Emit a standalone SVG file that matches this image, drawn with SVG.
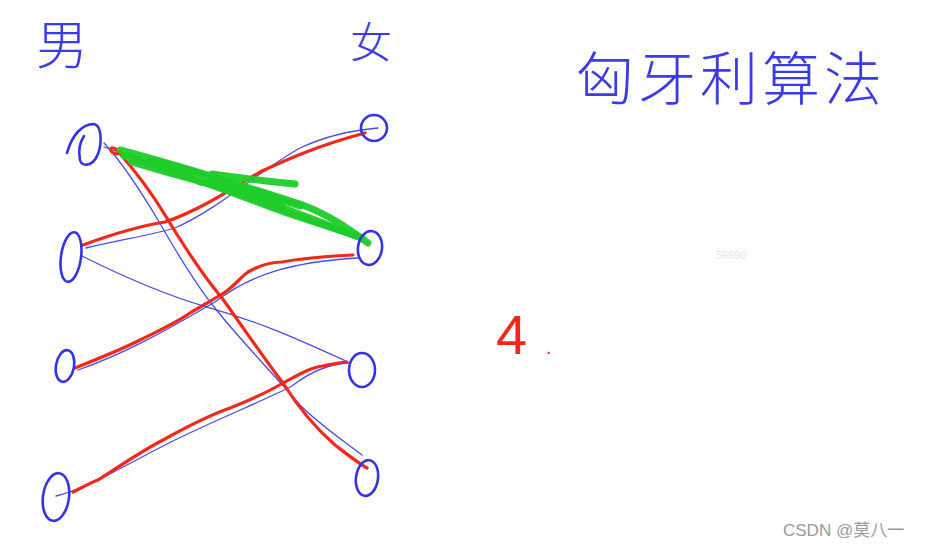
<svg xmlns="http://www.w3.org/2000/svg" width="930" height="549" viewBox="0 0 930 549">
<style>
.node{fill:none;stroke:#3434e6;stroke-width:2.6;stroke-linecap:round}
.b{fill:none;stroke:#4a4ae8;stroke-width:1.3;stroke-linecap:round}
.r{fill:none;stroke:#f2281a;stroke-width:3.2;stroke-linecap:round;stroke-linejoin:round}
.g{fill:none;stroke:#1fcc2a;stroke-width:7;stroke-linecap:round;opacity:0.95}
.hw{font-family:"Noto Sans CJK SC","Noto Sans",sans-serif;fill:#3a3ae6;font-weight:300}
</style>
<rect width="930" height="549" fill="#ffffff"/>
<text class="hw" x="36" y="64" font-size="52">男</text>
<text class="hw" x="350" y="58" font-size="42">女</text>
<text class="hw" x="576" y="100" font-size="58" letter-spacing="4">匈牙利算法</text>
<text x="496" y="354" font-family="Liberation Sans,sans-serif" font-size="56" fill="#f2281a" font-weight="300">4</text>
<text x="546" y="354" font-family="Liberation Sans,sans-serif" font-size="20" fill="#f2281a">.</text>
<text x="716" y="259" font-family="Liberation Sans,sans-serif" font-size="11" fill="#e6e6e6">56690</text>
<text x="783" y="536" font-family="Liberation Sans,'Noto Sans CJK SC',sans-serif" font-size="17" fill="#9a9a9a">CSDN @莫八一</text>

<g id="connectors">
<path class="b" d="M104,143 C118,158 140,190 158,220 C178,255 200,290 215,308 C240,340 270,370 300,405 C320,425 345,442 362,455"/>
<path class="b" d="M104,147 C170,170 260,205 365,242"/>
<path class="b" d="M86,248 C120,240 155,234 175,228 C220,208 260,170 300,148 C330,134 355,130 378,128"/>
<path class="b" d="M82,256 C120,275 165,295 207,307 C260,322 300,340 348,362"/>
<path class="b" d="M78,370 C130,352 175,325 215,302 C250,275 290,262 358,258"/>
<path class="b" d="M56,496 C90,488 130,462 175,440 C220,418 265,400 292,386 C310,372 330,364 348,363"/>
<path class="r" d="M117,150 C113,146 108,148 112,152 C118,157 125,150 117,150 C130,165 150,190 165,215 C185,248 205,278 222,298 C245,330 265,360 283,383 C300,410 320,432 335,445 C348,455 358,463 367,468"/>
<path class="r" d="M118,152 C190,175 270,205 362,240"/>
<path class="r" d="M83,245 C110,235 140,226 165,222 C200,210 230,190 260,172 C290,158 320,145 365,133"/>
<path class="r" d="M75,368 C100,358 125,348 140,340 C165,328 180,320 190,313 C205,304 220,296 228,290 C238,282 242,276 248,272 C262,264 272,262 282,262 C310,257 335,256 353,255"/>
<path class="r" d="M73,492 C85,486 92,482 98,480 C120,466 140,452 163,440 C190,425 210,415 230,408 C250,400 268,392 283,383 C300,374 312,367 323,366 C333,364 340,362 347,362"/>
<path class="g" d="M120,150 C180,166 250,188 300,204 C330,215 350,230 368,243"/>
<path class="g" d="M124,156 C185,174 240,196 290,214 C320,224 345,232 362,238"/>
<path class="g" d="M132,162 C190,180 230,188 262,200 C300,214 330,226 358,236"/>
<path class="g" d="M150,160 C200,172 250,190 300,206" stroke-width="5"/>
<path class="g" d="M212,174 C242,178 270,182 295,184" stroke-width="5"/>
<path class="g" d="M200,182 C235,186 260,196 282,206"/>
</g>

<g id="L1"><path class="node" d="M67,153 C72,135 82,124 94,124 C103,126 102,148 96,158 C91,166 82,167 80,160 C78,150 80,142 84,136"/></g>
<g id="L2"><ellipse class="node" cx="71" cy="257" rx="10" ry="25" transform="rotate(8 71 257)"/></g>
<g id="L3"><ellipse class="node" cx="65" cy="366" rx="9" ry="16" transform="rotate(10 65 366)"/></g>
<g id="L4"><ellipse class="node" cx="56" cy="497" rx="13" ry="24" transform="rotate(8 56 497)"/></g>
<g id="R1"><ellipse class="node" cx="374" cy="128" rx="13" ry="13"/></g>
<g id="R2"><ellipse class="node" cx="370" cy="248" rx="12" ry="17" transform="rotate(8 370 248)"/></g>
<g id="R3"><ellipse class="node" cx="362" cy="370" rx="13" ry="17"/></g>
<g id="R4"><ellipse class="node" cx="367" cy="478" rx="11" ry="18" transform="rotate(8 367 478)"/></g>
</svg>
